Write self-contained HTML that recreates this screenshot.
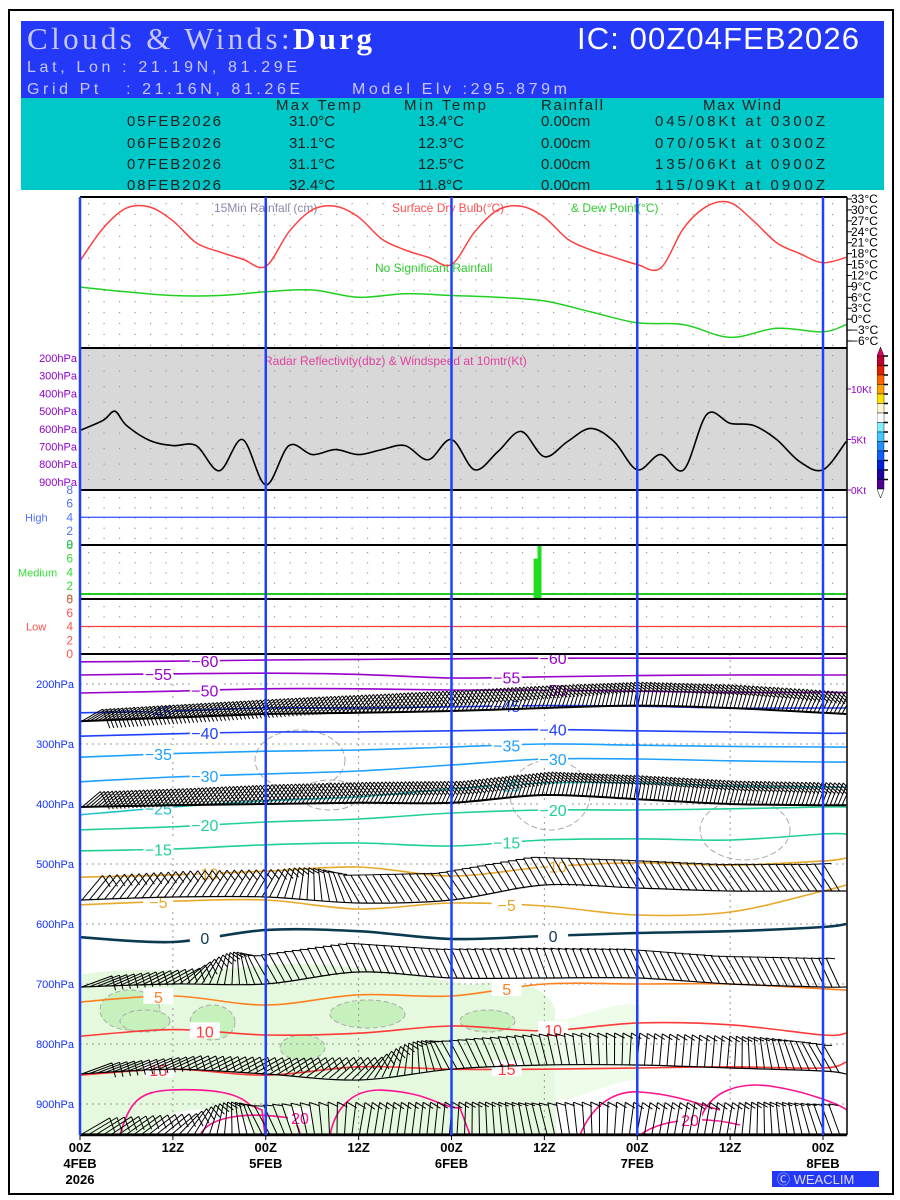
<!DOCTYPE html>
<html><head><meta charset="utf-8">
<style>
body{margin:0;background:#fff;}
svg{display:block;font-family:"Liberation Sans",sans-serif;}
</style></head>
<body>
<svg id="c" width="900" height="1200" viewBox="0 0 900 1200" xmlns="http://www.w3.org/2000/svg">
<rect x="9" y="10" width="884" height="1184" fill="#fff" stroke="#000" stroke-width="2"/>
<g>
<rect x="21" y="21" width="863" height="77" fill="#2438f8"/>
<rect x="21" y="98" width="863" height="92" fill="#00c8c8"/>
<text x="27" y="49" font-family="Liberation Serif,serif" font-size="31" fill="#c8c8ff" textLength="345">Clouds &amp; Winds:<tspan fill="#fff" font-weight="bold">Durg</tspan></text>
<text x="577" y="49" font-size="31" fill="#fff" textLength="282">IC: 00Z04FEB2026</text>
<text x="27" y="72" font-size="16" fill="#c8c8ff" textLength="270">Lat, Lon : 21.19N, 81.29E</text>
<text x="27" y="94" font-size="16" fill="#c8c8ff" textLength="540" xml:space="preserve">Grid Pt   : 21.16N, 81.26E      Model Elv :295.879m</text>
<g font-size="15" fill="#222">
<text x="276" y="110" textLength="85">Max Temp</text><text x="404" y="110" textLength="82">Min Temp</text><text x="541" y="110" textLength="62">Rainfall</text><text x="703" y="110" textLength="78">Max Wind</text>
<text x="127" y="126" textLength="94">05FEB2026</text><text x="289" y="126">31.0°C</text><text x="418" y="126">13.4°C</text><text x="541" y="126">0.00cm</text><text x="655" y="126" textLength="170">045/08Kt at 0300Z</text>
<text x="127" y="148" textLength="94">06FEB2026</text><text x="289" y="148">31.1°C</text><text x="418" y="148">12.3°C</text><text x="541" y="148">0.00cm</text><text x="655" y="148" textLength="170">070/05Kt at 0300Z</text>
<text x="127" y="169" textLength="94">07FEB2026</text><text x="289" y="169">31.1°C</text><text x="418" y="169">12.5°C</text><text x="541" y="169">0.00cm</text><text x="655" y="169" textLength="170">135/06Kt at 0900Z</text>
<text x="127" y="190" textLength="94">08FEB2026</text><text x="289" y="190">32.4°C</text><text x="418" y="190">11.8°C</text><text x="541" y="190">0.00cm</text><text x="655" y="190" textLength="170">115/09Kt at 0900Z</text>
</g></g>
<g id="plot"></g>
</svg>
<script>
// ---------- data ----------
const tempHours=[0,3,6,9,12,15,18,21,24,27,30,33,36,39,42,45,48,51,54,57,60,63,66,69,72,75,78,81,84,87,90,93,96,99];
const dryBulb=[16,25,30.5,30.8,27,21,18.5,16.5,14.5,24,30,31,28,22,19,17,15,24,30,31,28,22,19,17,15,14,25,31,32,27,21,18,15.5,17];
const dewHours=[0,6,12,18,24,30,36,42,48,54,60,66,72,78,84,90,96,99];
const dewPoint=[8.8,7.5,6.5,6.5,7.5,8,6,7,6.5,6,5,2,-1,-1.5,-5,-2.5,-3.5,-1.5];
const tempTicks=[33,30,27,24,21,18,15,12,9,6,3,0,-3,-6];
const windHours=[0,3,4.5,6,9,12,15,18,21,24,27,30,33,36,39,42,45,48,51,54,57,60,63,66,69,72,75,78,81,84,87,90,93,96,99];
const windSpeed=[5.9,6.9,7.8,6.4,4.9,4.4,4.4,1.9,5.0,0.5,4.4,3.5,4.0,3.5,4.0,4.4,3.0,5.0,2.0,3.8,5.8,3.3,4.8,6.1,4.8,2.0,3.5,2.0,7.5,6.6,6.4,5.0,2.8,2.0,4.8];
const radarLevels=["200hPa","300hPa","400hPa","500hPa","600hPa","700hPa","800hPa","900hPa"];
const cloudBarHours=[59,59.5];
const cloudBarOktas=[6,8];
const highCloud=4, mediumCloud=0.8, lowCloud=4;
const isoHours=[0,12,24,36,48,60,72,84,96,99];
const isoLabels=[-60,-55,-50,-45,-40,-35,-30,-25,-20,-15,-10,-5,0,5,10,15];
const isoP={
"-60":[163,162,160,159,158,157,157,157,157,157],
"-55":[185,183,182,184,190,188,186,185,185,185],
"-50":[215,212,208,208,210,210,212,214,214,214],
"-45":[248,245,240,240,238,236,237,240,240,240],
"-40":[287,283,280,280,278,276,278,280,282,282],
"-35":[322,316,312,310,305,300,302,304,305,305],
"-30":[363,355,350,345,335,325,325,328,330,330],
"-25":[418,405,395,388,375,365,365,370,372,372],
"-20":[443,438,430,425,415,410,410,408,405,405],
"-15":[478,475,468,465,470,460,458,460,450,450],
"-10":[522,518,512,505,520,505,498,502,495,490],
"-5":[568,562,560,575,565,570,585,580,545,535],
"0":[622,630,610,612,625,620,615,612,605,600],
"5":[730,720,735,718,720,700,700,700,708,710],
"10":[787,776,785,782,770,778,765,768,785,782],
"15":[852,842,852,838,842,842,840,838,840,830]};
const isoColor={"-60":"#9a00cc","-55":"#9a00cc","-50":"#9a00cc","-45":"#2040ff","-40":"#2040ff","-35":"#1ea0ff","-30":"#1ea0ff","-25":"#20c0c8","-20":"#20d090","-15":"#20d090","-10":"#e8a828","-5":"#e8a828","0":"#0a3a50","5":"#ff8020","10":"#ff3838","15":"#ff3838"};
const pressTicks=[200,300,400,500,600,700,800,900];
const barbRowHours=[0,12,24,36,48,60,72,84,96,99];
const barbRowP={
"upper":[262,256,250,248,245,240,236,240,248,250],
"r400":[405,402,400,398,398,385,392,400,402,402],
"r550":[560,555,555,565,560,535,540,545,545,545],
"r700":[705,700,700,680,690,690,690,700,705,705],
"r850":[850,842,850,860,842,835,835,840,845,850],
"r950":[950,950,950,950,950,950,950,950,950,950]};
const barbRowAngle={
"upper":[60,55,50,40,30,20,10,15,25,30],
"r400":[50,45,35,30,25,15,10,15,20,25],
"r550":[40,35,30,-30,-35,-30,-30,-35,-35,-30],
"r700":[70,60,-30,-25,-25,-20,-25,-30,-25,-25],
"r850":[70,65,60,45,-30,-15,5,5,-30,-30],
"r950":[60,50,-30,10,5,-15,10,10,-20,-20]};
const days=["4FEB","5FEB","6FEB","7FEB","8FEB"];
const timeTicks=[0,12,24,36,48,60,72,84,96];

// ---------- helpers ----------
const NS="http://www.w3.org/2000/svg";
const G=document.getElementById('plot');
const X0=80,X1=847,HMAX=99.1;
const xs=h=>X0+(X1-X0)*h/HMAX;
const tY=t=>341-(t+6)*3.641;
const wY=k=>490-k*10.1;
const pY=p=>654+(p-150)*0.6;
function mk(tag,attrs,parent){const e=document.createElementNS(NS,tag);for(const k in attrs)e.setAttribute(k,attrs[k]);(parent||G).appendChild(e);return e;}
function interp(hs,vs,h){for(let i=0;i<hs.length-1;i++){if(h<=hs[i+1]){const f=(h-hs[i])/(hs[i+1]-hs[i]);return vs[i]+f*(vs[i+1]-vs[i]);}}return vs[vs.length-1];}
function smoothPath(pts){let d="M"+pts[0][0]+","+pts[0][1];for(let i=1;i<pts.length;i++){const p0=pts[i-2]||pts[i-1],p1=pts[i-1],p2=pts[i],p3=pts[i+1]||p2;const c1=[p1[0]+(p2[0]-p0[0])/6,p1[1]+(p2[1]-p0[1])/6],c2=[p2[0]-(p3[0]-p1[0])/6,p2[1]-(p3[1]-p1[1])/6];d+=` C${c1[0].toFixed(1)},${c1[1].toFixed(1)} ${c2[0].toFixed(1)},${c2[1].toFixed(1)} ${p2[0].toFixed(1)},${p2[1].toFixed(1)}`;}return d;}
function txt(x,y,s,attrs){const t=mk('text',Object.assign({x:x,y:y},attrs||{}));t.textContent=s;return t;}
function dots(y0,y1,step){const g=mk('g',{fill:'#999'});for(let y=y0;y<y1;y+=step)for(let x=X0+8;x<X1;x+=15.5)mk('rect',{x:x,y:y,width:1.2,height:1.2},g);return g;}

// ---------- temperature panel ----------
let g=dots(203,345,10.9);


tempTicks.forEach(t=>{const y=tY(t);mk('line',{x1:X1,x2:X1+5,y1:y,y2:y,stroke:'#000'});const e=txt(851,y+4,(t<0?"−"+(-t):t)+"°C",{'font-size':12,fill:'#000'});});
let e=txt(214,212,"15Min Rainfall (cm)",{'font-size':12,fill:'#8888aa'});

e=txt(392,212,"Surface Dry Bulb(°C)",{'font-size':12,fill:'#ff5050'});

e=txt(571,212,"& Dew Point(°C)",{'font-size':12,fill:'#30cc30'});

e=txt(375,272,"No Significant Rainfall",{'font-size':12,fill:'#30cc30'});

e=mk('path',{d:smoothPath(tempHours.map((h,i)=>[xs(h),tY(dryBulb[i])])),fill:'none',stroke:'#ff4040','stroke-width':1.5});

e=mk('path',{d:smoothPath(dewHours.map((h,i)=>[xs(h),tY(dewPoint[i])])),fill:'none',stroke:'#20d020','stroke-width':1.5});


// ---------- radar / windspeed panel ----------
e=mk('rect',{x:X0,y:348,width:X1-X0,height:142,fill:'#d8d8d8'});

g=dots(355,490,15.5);
radarLevels.forEach((s,i)=>{const y=362+i*17.7;const t=txt(77,y,s,{'font-size':11,fill:'#9000cc','text-anchor':'end'});});
[0,5,10].forEach(k=>{const y=wY(k);mk('line',{x1:X1,x2:X1+4,y1:y,y2:y,stroke:'#9000cc'});const t=txt(851,y+4,k+"Kt",{'font-size':10,fill:'#9000cc'});});
e=txt(264,365,"Radar Reflectivity(dbz) & Windspeed at 10mtr(Kt)",{'font-size':12,fill:'#e040a0'});

e=mk('path',{d:smoothPath(windHours.map((h,i)=>[xs(h),wY(windSpeed[i])])),fill:'none',stroke:'#000','stroke-width':1.6});

// colour bar
const cb=["#c00030","#e02000","#ff6000","#ffa000","#ffe000","#fff8d0","#ffffff","#80f0ff","#40c8ff","#2090ff","#1060ff","#0020e0","#2000a0","#500090"];
g=mk('g',{});
cb.forEach((c,i)=>{mk('rect',{x:877,y:356+i*9.5,width:7,height:9.5,fill:c,stroke:'#000','stroke-width':0.4},g);mk('line',{x1:884,x2:888,y1:356+i*9.5,y2:356+i*9.5,stroke:'#000','stroke-width':1.5},g);});
mk('polygon',{points:"877,356 880.5,347 884,356",fill:'#e00060',stroke:'#000','stroke-width':0.5},g);
mk('polygon',{points:"877,489 880.5,498 884,489",fill:'#fff',stroke:'#000','stroke-width':0.5},g);

// ---------- cloud panels ----------
[[490,"High","#5070ff","#3050ff",highCloud,'high'],[545,"Medium","#30dd30","#20cc20",mediumCloud,'medium'],[599,"Low","#ff5050","#ff4040",lowCloud,'low']].forEach((p,k)=>{
 const top=p[0],col=p[2];const h=(k==2?55:54.5);
 const gg=dots(top+7,top+h-2,10.2);
 for(let o=0;o<=8;o+=2){const y=top+h-o*h/8;const t=txt(73,y+4,String(o),{'font-size':12,fill:col,'text-anchor':'end'});}
 const t=txt(k==1?18:(k==0?25:26),top+h/2+4,p[1],{'font-size':11,fill:col});
 const ln=mk('line',{x1:X0,x2:X1,y1:top+h-p[4]*h/8,y2:top+h-p[4]*h/8,stroke:p[3],'stroke-width':k==1?2:1.2});
});
cloudBarHours.forEach((h,i)=>{const y=599.5-cloudBarOktas[i]*54.5/8;const r=mk('rect',{x:xs(h)-3,y:y,width:4,height:599.5-y,fill:'#20dd20'});});

// ---------- upper-air panel ----------
e=mk('path',{d:"M80,975 C120,965 200,975 265,965 C330,960 420,975 470,985 C520,975 550,990 555,1010 L556,1135 L80,1135 Z",fill:'#e4f9de'});

e=mk('path',{d:"M556,1020 C580,1020 610,1000 640,1005 L640,1080 C610,1080 580,1100 556,1100 Z",fill:'#eefcea'});

e=mk('path',{d:"M150,1135 C160,1110 200,1105 230,1112 C250,1120 255,1130 255,1135 Z",fill:'#fff'});
[[100,990,60,40],[190,1005,45,35],[330,1000,75,28],[460,1010,55,22],[280,1035,45,25],[120,1010,50,22]].forEach(b=>{const el=mk('ellipse',{cx:b[0]+b[2]/2,cy:b[1]+b[3]/2,rx:b[2]/2,ry:b[3]/2,fill:'#c6f0bc',stroke:'#aaa','stroke-dasharray':'5,3'});});
[[255,730,90,60],[510,760,80,70],[700,800,90,60],[300,780,60,30]].forEach(b=>{const el=mk('ellipse',{cx:b[0]+b[2]/2,cy:b[1]+b[3]/2,rx:b[2]/2,ry:b[3]/2,fill:'none',stroke:'#aaa','stroke-dasharray':'6,3'});});
pressTicks.forEach(p=>{const y=pY(p);mk('line',{x1:X0,x2:X1,y1:y,y2:y,stroke:'#999','stroke-dasharray':'2,4'});const t=txt(74,y+4,p+"hPa",{'font-size':11,fill:'#1030ff','text-anchor':'end'});});
timeTicks.forEach(h=>{if(h%24)mk('line',{x1:xs(h),x2:xs(h),y1:654,y2:1135,stroke:'#999','stroke-dasharray':'2,4'});});
// isotherms
isoLabels.forEach(lv=>{const k=String(lv);const pts=isoHours.map((h,i)=>[xs(h),pY(isoP[k][i])]);
 const pth=mk('path',{d:smoothPath(pts),fill:'none',stroke:isoColor[k],'stroke-width':lv===0?2.6:1.6});
 
 [10,55].forEach((h,j)=>{const hh=h+(lv%10?0:6);const y=pY(interp(isoHours,isoP[k],hh));const x=xs(hh);
  mk('rect',{x:x-14,y:y-9,width:30,height:16,fill:'#fff'});
  const t=txt(x+1,y+6,lv<0?"−"+(-lv):String(lv),{'font-size':16,fill:isoColor[k],'text-anchor':'middle'});});
});
e=mk('path',{d:"M120,1135 C130,1100 140,1092 170,1090 C220,1088 240,1095 250,1105 L262,1110 L265,1135 M330,1135 C335,1110 350,1090 380,1090 C430,1092 440,1108 460,1108 L470,1135 M580,1135 C590,1110 610,1090 640,1092 C680,1095 700,1105 720,1110 M700,1120 C710,1090 740,1082 770,1086 C810,1092 840,1105 847,1110 M200,1135 C210,1115 250,1112 290,1118 C300,1125 300,1135 300,1135 M640,1135 C660,1120 700,1115 740,1125",fill:'none',stroke:'#ff1090','stroke-width':1.6});

[[300,1118,"20"],[690,1120,"20"]].forEach(l=>{mk('rect',{x:l[0]-12,y:l[1]-10,width:24,height:17,fill:'#fff'});const t=txt(l[0],l[1]+6,l[2],{'font-size':16,fill:'#ff1090','text-anchor':'middle'});});
// wind barbs
Object.keys(barbRowP).forEach(row=>{const gb=mk('g',{stroke:'#000','stroke-width':1,fill:'none'});
 const dense=row==='upper'||row==='r400';
 const step=dense?4:7.5;
 let d="";
 for(let x=X0+2;x<X1-4;x+=step){const h=(x-X0)/(X1-X0)*HMAX;const y=pY(interp(barbRowHours,barbRowP[row],h));const a=interp(barbRowHours,barbRowAngle[row],h)*Math.PI/180;
  const L=dense?24:32;const ex=x+L*Math.sin(a),ey=y-L*Math.cos(a);
  d+=`M${x.toFixed(1)},${y.toFixed(1)}L${ex.toFixed(1)},${ey.toFixed(1)}`;
  const fl=dense?14:10;const fx=ex+fl*Math.cos(a),fy=ey+fl*Math.sin(a)+fl*0.5;d+=`M${ex.toFixed(1)},${ey.toFixed(1)}L${fx.toFixed(1)},${fy.toFixed(1)}`;}
 mk('path',{d:d},gb);
 const base=barbRowHours.map((h,i)=>[xs(h),pY(barbRowP[row][i])]);mk('path',{d:smoothPath(base),'stroke-width':dense?2:1.2},gb);
});

// ---------- frames, day lines, axis labels ----------
[197,348,490,545,599,654].forEach(y=>{const l=mk('line',{x1:X0,x2:X1,y1:y,y2:y,stroke:'#000','stroke-width':2});});
mk('rect',{x:X1,y:190,width:30,height:960,fill:'#fff'});
tempTicks.forEach(t=>{const y=tY(t);mk('line',{x1:X1,x2:X1+5,y1:y,y2:y,stroke:'#000'});const e=txt(851,y+4,(t<0?"−"+(-t):t)+"°C",{'font-size':12,fill:'#000'});});
[0,5,10].forEach(k=>{const y=wY(k);mk('line',{x1:X1,x2:X1+4,y1:y,y2:y,stroke:'#9000cc'});const t=txt(851,y+4,k+"Kt",{'font-size':10,fill:'#9000cc'});});
mk('line',{x1:X1,x2:X1,y1:197,y2:1135,stroke:'#000','stroke-width':1.5});
mk('line',{x1:X0,x2:X1,y1:1135,y2:1135,stroke:'#000','stroke-width':2.5});
[0,24,48,72,96].forEach(h=>{const l=mk('line',{x1:xs(h),x2:xs(h),y1:197,y2:1135,stroke:'#2040ff','stroke-width':2.5});});
timeTicks.forEach(h=>{const x=xs(h);mk('line',{x1:x,x2:x,y1:1135,y2:1140,stroke:'#000'});
 const t=txt(x,1152,(h%24?"12Z":"00Z"),{'font-size':13,'font-weight':'bold','text-anchor':'middle',fill:'#000'});
 if(h%24===0){const d=txt(x,1168,days[h/24],{'font-size':13,'font-weight':'bold','text-anchor':'middle',fill:'#000'});}});
e=txt(xs(0),1184,"2026",{'font-size':13,'font-weight':'bold','text-anchor':'middle',fill:'#000'});

e=mk('rect',{x:772,y:1171,width:107,height:16,fill:'#2438f8'});

e=txt(777,1184,"Ⓒ WEACLIM",{'font-size':13,fill:'#dde'});

</script>
</body></html>
